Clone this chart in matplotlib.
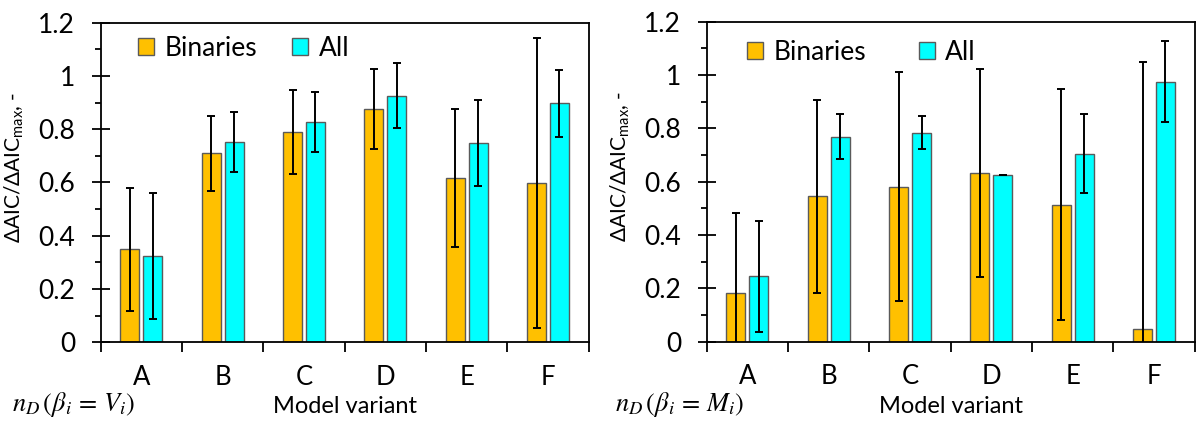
import numpy as np
import matplotlib.pyplot as plt
from matplotlib.ticker import MultipleLocator, FixedLocator

plt.rcParams['font.family'] = ['Lato', 'DejaVu Sans']
plt.rcParams['mathtext.fontset'] = 'custom'
plt.rcParams['mathtext.rm'] = 'Lato'
plt.rcParams['mathtext.it'] = 'Lato:italic'

variants = ['A', 'B', 'C', 'D', 'E', 'F']

# panel 1: beta_i = V_i
bin_v = [0.349, 0.709, 0.789, 0.875, 0.617, 0.597]
bin_v_err = [0.232, 0.140, 0.158, 0.150, 0.260, 0.545]
all_v = [0.325, 0.752, 0.827, 0.926, 0.749, 0.898]
all_v_err = [0.236, 0.114, 0.114, 0.121, 0.161, 0.126]

# panel 2: beta_i = M_i
bin_m = [0.183, 0.545, 0.581, 0.633, 0.514, 0.048]
bin_m_err = [0.300, 0.362, 0.430, 0.390, 0.432, 1.002]
all_m = [0.245, 0.769, 0.784, 0.625, 0.704, 0.974]
all_m_err = [0.208, 0.084, 0.063, 0.000, 0.148, 0.152]

ytick_labels = ['0', '0.2', '0.4', '0.6', '0.8', '1', '1.2']

ORANGE = '#FFC000'
CYAN = '#00FFFF'
EDGE = '#5a5a5a'


def draw_panel(ax, b, be, a, ae, note, note_x, leg_x, leg_y, colspace):
    x = np.arange(len(variants))
    w = 0.234
    off = 0.141
    ekw = dict(ecolor='black', elinewidth=1.4, capsize=3.2, capthick=1.4)
    ax.bar(x - off, b, w, yerr=be, color=ORANGE, edgecolor=EDGE,
           linewidth=1.0, error_kw=ekw, label='Binaries')
    ax.bar(x + off, a, w, yerr=ae, color=CYAN, edgecolor=EDGE,
           linewidth=1.0, error_kw=ekw, label='All')

    ax.set_xlim(-0.5, len(variants) - 0.5)
    ax.set_ylim(0, 1.2)

    # ticks at group boundaries, labels at group centres
    ax.xaxis.set_major_locator(FixedLocator(np.arange(len(variants) + 1) - 0.5))
    ax.xaxis.set_major_formatter(plt.NullFormatter())
    ax.set_xticks(x, minor=True)
    ax.set_xticklabels(variants, minor=True)
    ax.tick_params(axis='x', which='major', direction='out', length=7, width=1.3)
    ax.tick_params(axis='x', which='minor', length=0, pad=16, labelsize=18.5)

    ax.set_yticks(np.arange(0, 1.21, 0.2))
    ax.set_yticklabels(ytick_labels)
    ax.yaxis.set_minor_locator(MultipleLocator(0.1))
    ax.tick_params(axis='y', which='major', direction='inout', length=13,
                   width=1.3, pad=12, labelsize=19)
    ax.tick_params(axis='y', which='minor', direction='out', length=4.3, width=1.3)
    ax.tick_params(top=False, right=False, which='both')

    for s in ax.spines.values():
        s.set_linewidth(1.3)

    ax.set_ylabel(r'ΔAIC/ΔAIC$_{\mathrm{max}}$, -', fontsize=15)
    ax.yaxis.set_label_coords(-0.153, 0.548)
    ax.set_xlabel('Model variant', fontsize=17)
    ax.xaxis.set_label_coords(0.5, -0.202)
    ax.xaxis.label.set_verticalalignment('center')

    ax.legend(loc='center left', bbox_to_anchor=(leg_x, leg_y), ncol=2,
              frameon=False, fontsize=19, handlelength=0.6, handleheight=0.65,
              handletextpad=0.4, columnspacing=colspace, borderpad=0,
              borderaxespad=0)

    ax.figure.text(note_x, 0.043, note, fontsize=19, ha='left', va='center',
                   math_fontfamily='stix')


fig = plt.figure(figsize=(11.96, 4.23), dpi=100)
ax1 = fig.add_axes([0.0842, 0.1908, 0.4080, 0.7556])
ax2 = fig.add_axes([0.5909, 0.1922, 0.4080, 0.7565])

draw_panel(ax1, bin_v, bin_v_err, all_v, all_v_err,
           r'$n_D\,(\beta_i\,=\,V_i)$', 0.010, 0.076, 0.92, 1.35)
draw_panel(ax2, bin_m, bin_m_err, all_m, all_m_err,
           r'$n_D\,(\beta_i\,=\,M_i)$', 0.514, 0.083, 0.905, 2.0)

fig.savefig('out.png', dpi=100)
